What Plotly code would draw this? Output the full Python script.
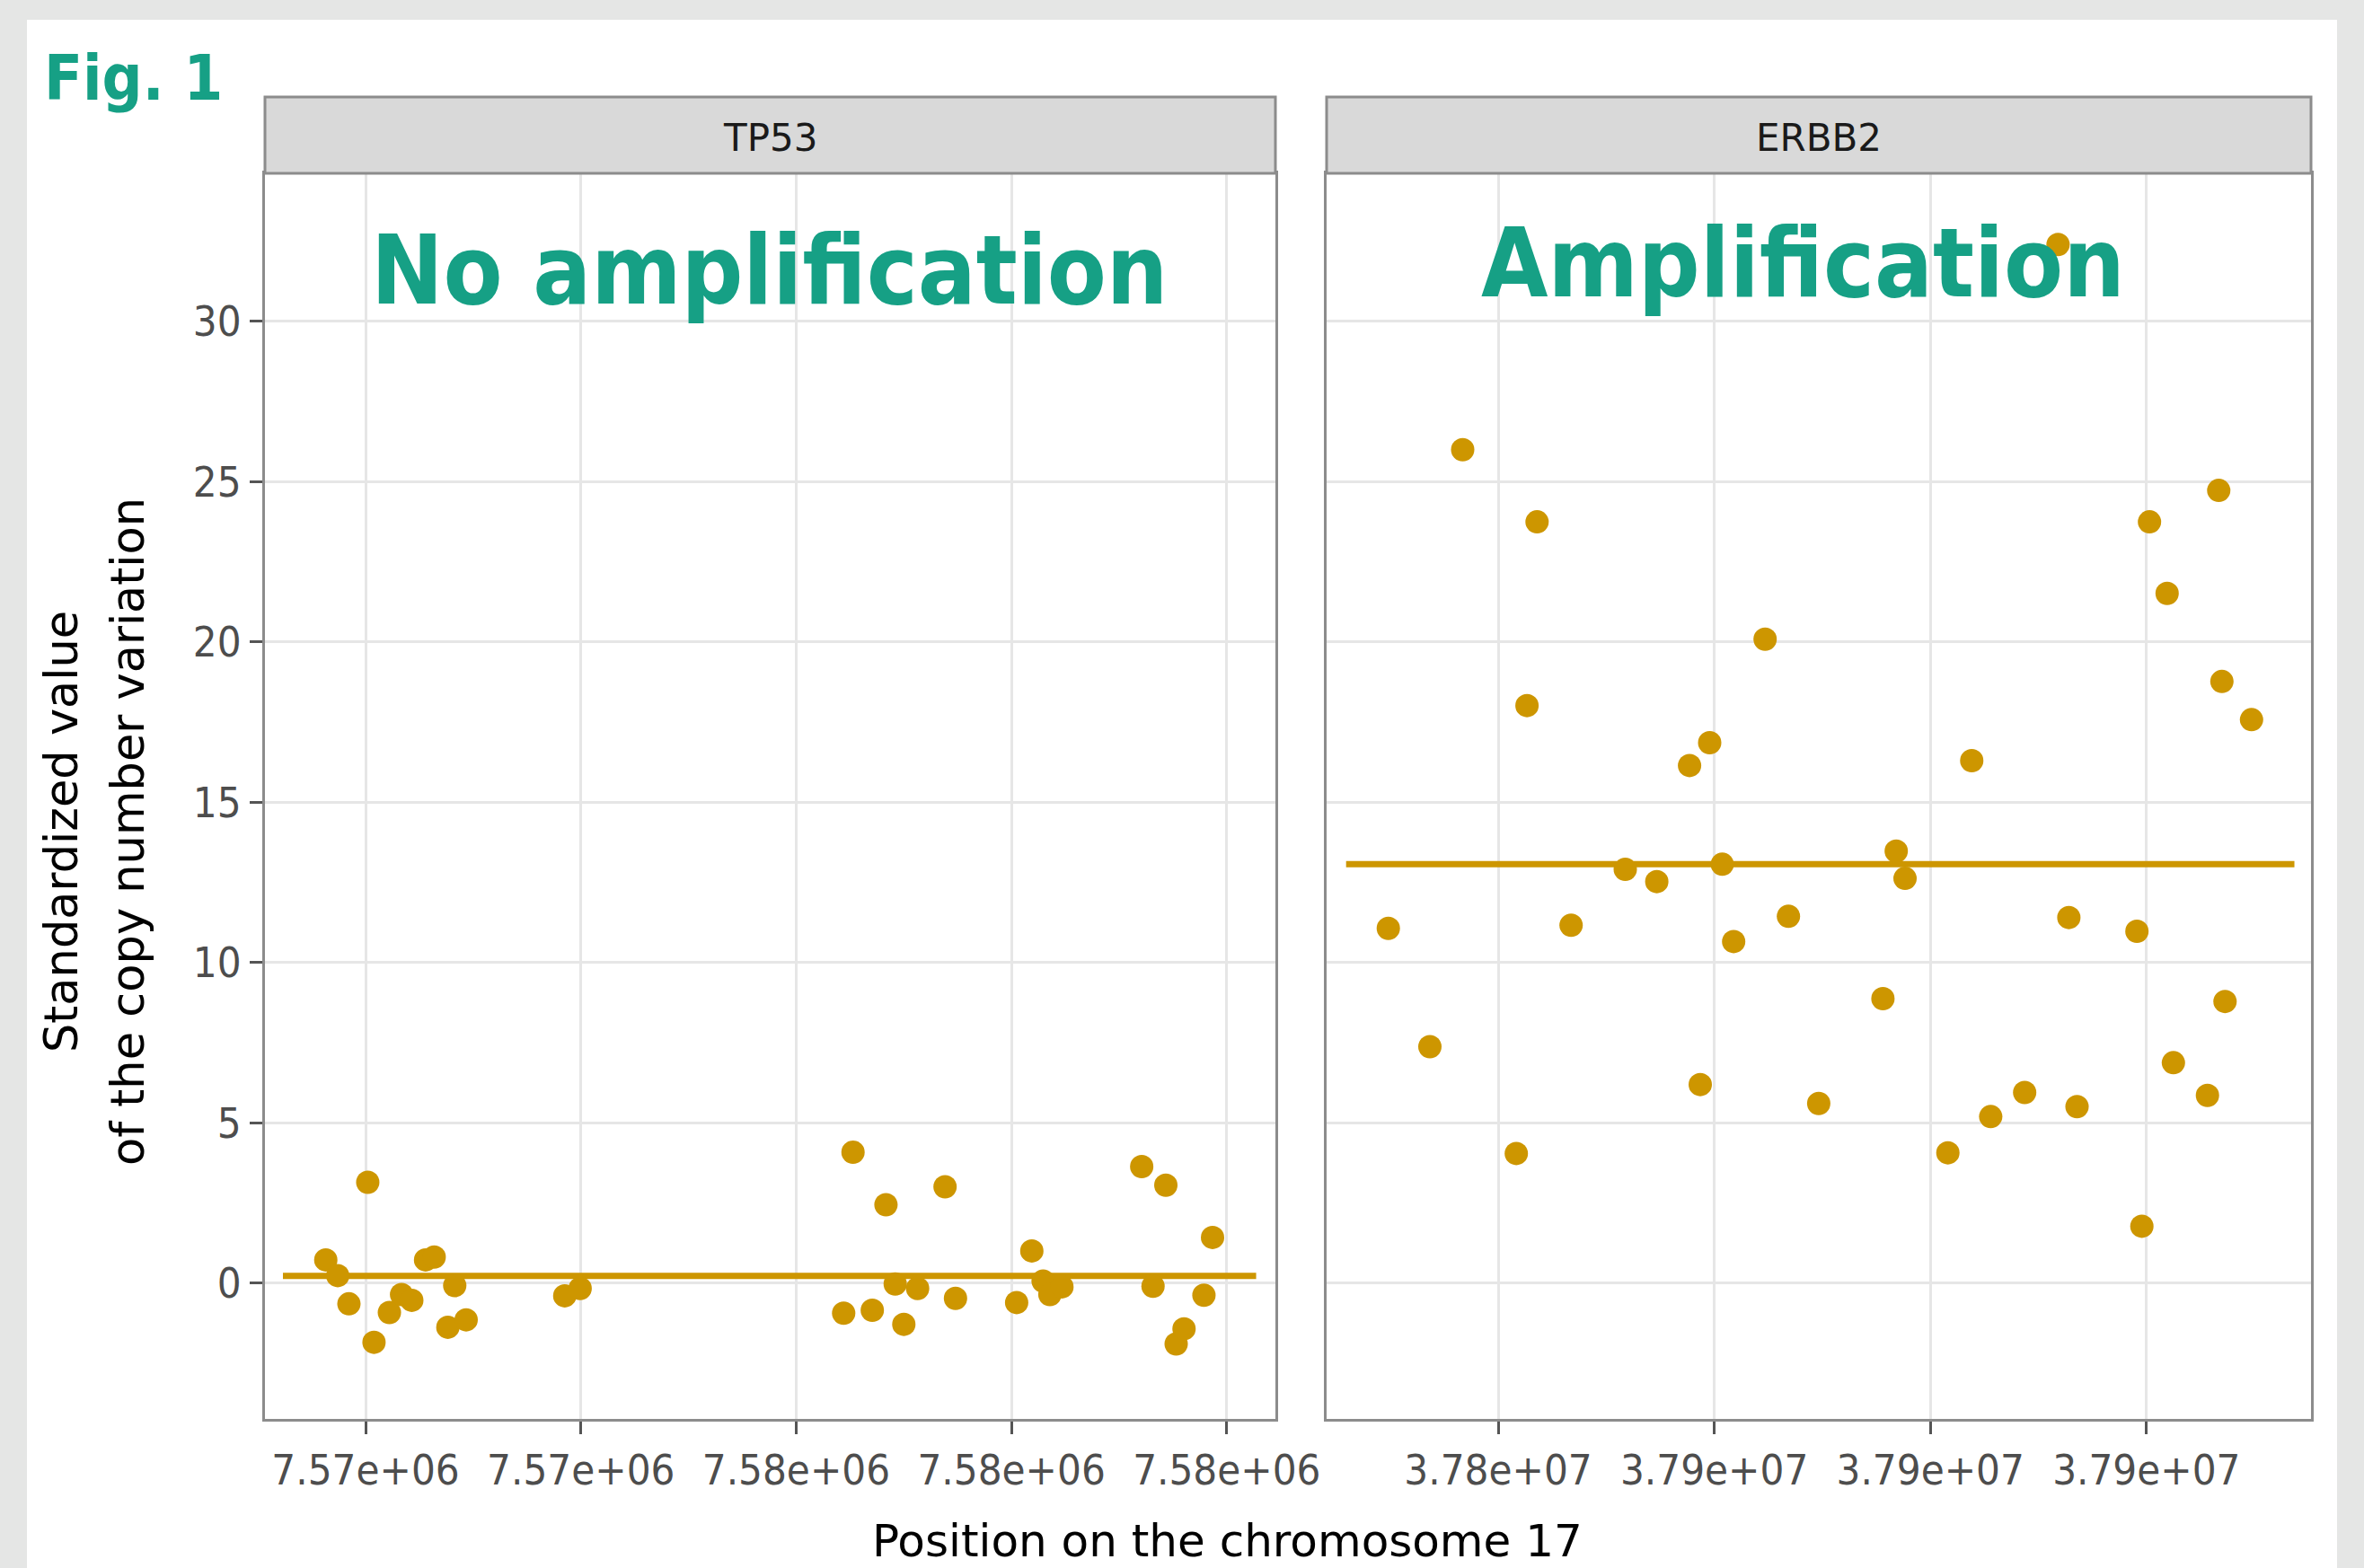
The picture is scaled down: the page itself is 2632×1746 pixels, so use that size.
import plotly.graph_objects as go

W, H = 2632, 1746

# ---------------- data ----------------
tp53_pos = [7571630, 7571741, 7571845, 7572020, 7572078, 7572221, 7572334, 7572429,
            7572557, 7572637, 7572764, 7572828, 7572934, 7573850, 7573993, 7576441,
            7576528, 7576707, 7576834, 7576920, 7577000, 7577128, 7577383, 7577480,
            7578048, 7578189, 7578294, 7578357, 7578469, 7579210, 7579315, 7579434,
            7579530, 7579603, 7579788, 7579868]
tp53_val = [0.72, 0.23, -0.65, 3.14, -1.85, -0.92, -0.36, -0.54,
            0.72, 0.81, -1.38, -0.08, -1.15, -0.40, -0.17, -0.94,
            4.08, -0.85, 2.44, -0.03, -1.29, -0.17, 3.00, -0.48,
            -0.61, 1.00, 0.06, -0.36, -0.12, 3.63, -0.10, 3.05,
            -1.90, -1.43, -0.38, 1.42]

erbb2_pos = [37844917, 37846841, 37848358, 37850839, 37851334, 37851800, 37853375,
             37855881, 37857340, 37858856, 37859351, 37859787, 37860369, 37860897,
             37862352, 37863432, 37864833, 37867804, 37868419, 37868827, 37870809,
             37871914, 37872791, 37874362, 37875908, 37876407, 37876785, 37879557,
             37879786, 37880139, 37880954, 37881245, 37882820, 37883343, 37883489,
             37883634, 37884860]
erbb2_val = [11.06, 7.37, 25.99, 4.04, 18.01, 23.74, 11.16,
             12.90, 12.52, 16.14, 6.19, 16.85, 13.06, 10.65,
             20.08, 11.44, 5.60, 8.87, 13.47, 12.62, 4.06,
             16.29, 5.19, 5.94, 32.39, 11.40, 5.50, 10.97,
             1.77, 23.74, 21.51, 6.87, 5.85, 24.72, 18.76,
             8.78, 17.57]

tp53_mean = [0.22, 0.22]
tp53_mean_x = [7571232, 7580273]
erbb2_mean = [13.06, 13.06]
erbb2_mean_x = [37842964, 37886844]

tp53_ticks = [7572000, 7574000, 7576000, 7578000, 7580000]
tp53_ticktext = ["7.57e+06", "7.57e+06", "7.58e+06", "7.58e+06", "7.58e+06"]
erbb2_ticks = [37850000, 37860000, 37870000, 37880000]
erbb2_ticktext = ["3.78e+07", "3.79e+07", "3.79e+07", "3.79e+07"]
y_ticks = [0, 5, 10, 15, 20, 25, 30]

panel_titles = ["TP53", "ERBB2"]
panel_labels = ["No amplification", "Amplification"]
fig_label = "Fig. 1"
x_title = "Position on the chromosome 17"
y_title_lines = ["Standardized value", "of the copy number variation"]

# ---------------- style ----------------
PT = "#CD9600"
GREEN = "#16A085"
COND = "DejaVu Sans Condensed, DejaVu Sans, sans-serif"
REG = "DejaVu Sans, sans-serif"


def fx(px):
    return px / W


def fy(py):
    return 1 - py / H


# panel pixel geometry
L_X0, L_X1 = 295, 1420
R_X0, R_X1 = 1477, 2573
P_Y0, P_Y1 = 193, 1580
S_Y0 = 108

fig = go.Figure()
fig.add_trace(go.Scatter(x=tp53_mean_x, y=tp53_mean, mode="lines",
                         line=dict(color=PT, width=7), xaxis="x", yaxis="y",
                         hoverinfo="skip"))
fig.add_trace(go.Scatter(x=tp53_pos, y=tp53_val, mode="markers",
                         marker=dict(color=PT, size=26, line=dict(width=0)),
                         xaxis="x", yaxis="y"))
fig.add_trace(go.Scatter(x=erbb2_mean_x, y=erbb2_mean, mode="lines",
                         line=dict(color=PT, width=7), xaxis="x2", yaxis="y2",
                         hoverinfo="skip"))
fig.add_trace(go.Scatter(x=erbb2_pos, y=erbb2_val, mode="markers",
                         marker=dict(color=PT, size=26, line=dict(width=0)),
                         xaxis="x2", yaxis="y2"))

axis_common = dict(
    showgrid=True, gridcolor="#e6e6e6", gridwidth=2.5,
    zeroline=False, showline=True, mirror=True,
    linecolor="#8c8c8c", linewidth=3, automargin=False,
)
tickfont = dict(family=COND, size=47, color="#4d4d4d")

fig.update_layout(
    width=W, height=H, autosize=False,
    margin=dict(l=0, r=0, t=0, b=0, pad=0, autoexpand=False),
    paper_bgcolor="#e5e6e5", plot_bgcolor="white",
    showlegend=False,
    xaxis=dict(domain=[fx(L_X0), fx(L_X1)], range=[7571065, 7580452], anchor="y",
               tickmode="array", tickvals=tp53_ticks, ticktext=tp53_ticktext,
               ticks="outside", ticklen=14, tickwidth=3, tickcolor="#555555",
               tickfont=tickfont, **axis_common),
    yaxis=dict(domain=[fy(P_Y1), fy(P_Y0)], range=[-4.24, 34.61], anchor="x",
               tickmode="array", tickvals=y_ticks,
               ticks="outside", ticklen=14, tickwidth=3, tickcolor="#555555",
               tickfont=tickfont, **axis_common),
    xaxis2=dict(domain=[fx(R_X0), fx(R_X1)], range=[37842062, 37887612], anchor="y2",
                tickmode="array", tickvals=erbb2_ticks, ticktext=erbb2_ticktext,
                ticks="outside", ticklen=14, tickwidth=3, tickcolor="#555555",
                tickfont=tickfont, **axis_common),
    yaxis2=dict(domain=[fy(P_Y1), fy(P_Y0)], range=[-4.24, 34.61], anchor="x2",
                tickmode="array", tickvals=y_ticks, showticklabels=False,
                ticks="", **axis_common),
)

shapes = [
    dict(type="rect", xref="paper", yref="paper", x0=fx(30), x1=fx(2602),
         y0=0, y1=fy(22), fillcolor="white", line=dict(width=0), layer="below"),
]
for x0, x1 in [(L_X0, L_X1), (R_X0, R_X1)]:
    shapes.append(dict(type="rect", xref="paper", yref="paper",
                       x0=fx(x0), x1=fx(x1), y0=fy(P_Y0), y1=fy(S_Y0),
                       fillcolor="#d9d9d9", line=dict(color="#8c8c8c", width=3),
                       layer="above"))
fig.update_layout(shapes=shapes)

ann = []
for title, (x0, x1) in zip(panel_titles, [(L_X0, L_X1), (R_X0, R_X1)]):
    ann.append(dict(text=title, x=fx((x0 + x1) / 2), y=fy(153), xref="paper",
                    yref="paper", xanchor="center", yanchor="middle",
                    showarrow=False, font=dict(family=REG, size=42, color="#1a1a1a")))
ann.append(dict(text="<b>%s</b>" % panel_labels[0], x=fx(856), y=fy(301),
                xref="paper", yref="paper", xanchor="center", yanchor="middle",
                showarrow=False, font=dict(family=COND, size=107, color=GREEN)))
ann.append(dict(text="<b>%s</b>" % panel_labels[1], x=fx(2007), y=fy(293),
                xref="paper", yref="paper", xanchor="center", yanchor="middle",
                showarrow=False, font=dict(family=COND, size=107, color=GREEN)))
ann.append(dict(text="<b>%s</b>" % fig_label, x=fx(47), y=fy(87),
                xref="paper", yref="paper", xanchor="left", yanchor="middle",
                showarrow=False, font=dict(family=COND, size=70, color=GREEN)))
ann.append(dict(text=x_title, x=fx(1366), y=fy(1716), xref="paper", yref="paper",
                xanchor="center", yanchor="middle", showarrow=False,
                font=dict(family=REG, size=50, color="black")))
for line, xc in zip(y_title_lines, [68, 142]):
    ann.append(dict(text=line, x=fx(xc), y=fy(926), xref="paper", yref="paper",
                    xanchor="center", yanchor="middle", textangle=-90,
                    showarrow=False, font=dict(family=REG, size=51, color="black")))
fig.update_layout(annotations=ann)

fig.write_html(
    "out.html",
    config={"displayModeBar": False},
    post_script="document.body.style.margin='0';document.body.style.overflow='hidden';",
)
